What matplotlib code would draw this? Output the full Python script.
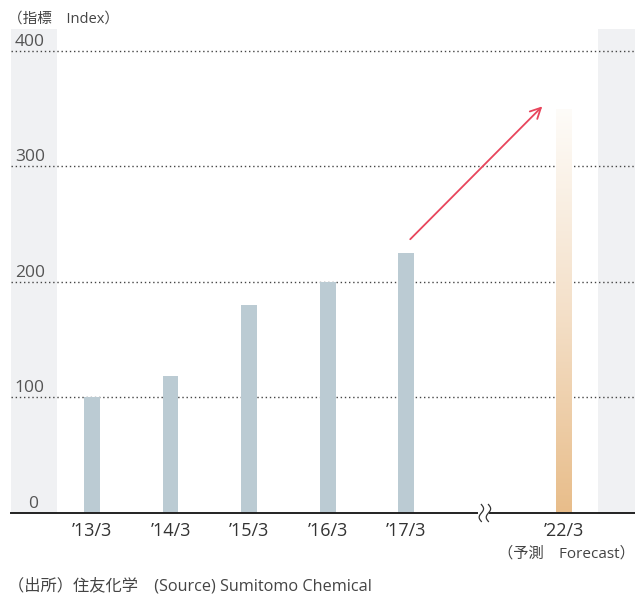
import numpy as np
import matplotlib
matplotlib.use("Agg")
import matplotlib.pyplot as plt
import matplotlib.transforms as mtransforms
from matplotlib.colors import LinearSegmentedColormap

plt.rcParams['font.family'] = ['Open Sans', 'Noto Sans CJK JP', 'DejaVu Sans']

# Data
periods = ["’13/3", "’14/3", "’15/3", "’16/3", "’17/3"]
actual_values = [100, 119, 180, 200, 225]
forecast_period = "’22/3"
forecast_value = 350
y_ticks = [0, 100, 200, 300, 400]
trend_start = (4.05, 237)
trend_end = (5.73, 352)

unit_label = "（指標　Index）"
forecast_note = "（予測　Forecast）"
source_note = "（出所）住友化学　(Source) Sumitomo Chemical"

W, H = 635, 594
fig = plt.figure(figsize=(W / 100, H / 100), dpi=100)
ax = fig.add_axes([11 / W, (H - 513) / H, 624 / W, (513 - 29) / H])

x_actual = np.arange(len(periods))
x_forecast = len(periods) + 1
x_break = len(periods)

ax.set_xlim(-1.03, 6.91)
ax.set_ylim(0, 419)
ax.axis('off')

# side shaded panels
band = '#f0f1f3'
ax.axvspan(-1.03, -0.445, color=band, zorder=0, lw=0)
ax.axvspan(6.44, 6.91, color=band, zorder=0, lw=0)

# dotted grid lines
for v in y_ticks[1:]:
    ax.axhline(v, color='#444444', lw=1.0, ls=(0, (1, 2)), zorder=1)

# actual bars
bar_w = 0.2
ax.bar(x_actual, actual_values, width=bar_w, color='#bbcbd3', zorder=2)

# forecast bar with vertical gradient
fb = ax.bar([x_forecast], [forecast_value], width=bar_w, color='none', zorder=2)[0]
cmap = LinearSegmentedColormap.from_list('fc', ['#e8bd8a', '#f4e0c9', '#fefcf9'])
grad = np.linspace(0, 1, 256).reshape(-1, 1)
im = ax.imshow(grad, cmap=cmap, aspect='auto', origin='lower',
               extent=[fb.get_x(), fb.get_x() + fb.get_width(), 0, fb.get_height()],
               zorder=2, interpolation='bicubic')
im.set_clip_path(fb)

# baseline with break marks
ax.plot([-1.03, x_break - 0.1], [0, 0], color='#222222', lw=1.4, zorder=3, clip_on=False)
ax.plot([x_break + 0.065, 6.91], [0, 0], color='#222222', lw=1.4, zorder=3, clip_on=False)
t = np.linspace(-1, 1, 60)
for dx in (-0.045, 0.045):
    tr = fig.dpi_scale_trans + mtransforms.ScaledTranslation(x_break + dx, 0, ax.transData)
    ax.plot(0.022 * np.sin(np.pi * t), 0.085 * t, color='#333333', lw=0.9,
            transform=tr, zorder=4, clip_on=False)

# trend arrow
ax.annotate('', xy=trend_end, xytext=trend_start,
            arrowprops=dict(arrowstyle='->,head_length=0.75,head_width=0.38',
                            color='#e8455c', lw=1.3, shrinkA=0, shrinkB=0),
            zorder=5)

# y tick labels inside the left panel
for v in y_ticks:
    ax.text(-0.79 if v else -0.745, v + 4.5, str(v), ha='center', va='baseline',
            fontsize=12.5, color='#555555', zorder=6)

# x tick labels
for x, lab in zip(x_actual, periods):
    ax.text(x, -8, lab, ha='center', va='top', fontsize=13, color='#333333')
ax.text(x_forecast, -8, forecast_period, ha='center', va='top', fontsize=13, color='#333333')
ax.text(x_forecast + 0.04, -29, forecast_note, ha='center', va='top',
        fontsize=11, color='#444444')

fig.text(8 / W, 1 - 19 / H, unit_label, ha='left', va='center', fontsize=10.5, color='#444444')
fig.text(8 / W, 1 - 586 / H, source_note, ha='left', va='center', fontsize=11.7, color='#444444')

fig.savefig('out.png', dpi=100)
